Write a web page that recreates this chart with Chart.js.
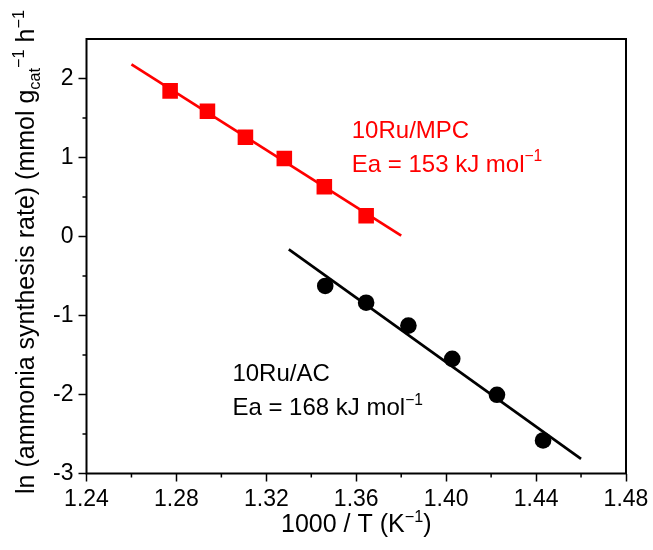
<!DOCTYPE html>
<html>
<head>
<meta charset="utf-8">
<script src="https://cdn.jsdelivr.net/npm/chart.js@4"></script>
<style>
html, body { margin: 0; padding: 0; background: #fff; }
</style>
</head>
<body>
<canvas id="myChart" width="653" height="550"></canvas>
<script>
// values
const mpcX = [1.2772, 1.2938, 1.3107, 1.3280, 1.3458, 1.3644]
const mpcY = [1.843, 1.586, 1.257, 0.988, 0.629, 0.262]
const mpcFitX = [1.260, 1.380]
const mpcFitY = [2.180, 0.010]

const acX = [1.3462, 1.3644, 1.3832, 1.4027, 1.4226, 1.4431]
const acY = [-0.626, -0.838, -1.128, -1.549, -2.004, -2.582]
const acFitX = [1.330, 1.460]
const acFitY = [-0.162, -2.814]

const xTicks = [1.24, 1.28, 1.32, 1.36, 1.40, 1.44, 1.48]
const xMinor = [1.26, 1.30, 1.34, 1.38, 1.42, 1.46]
const yTicks = [-3, -2, -1, 0, 1, 2]
const yMinor = [-2.5, -1.5, -0.5, 0.5, 1.5]

const RED = '#ff0000'
const FONT = '"Liberation Sans", Arial, sans-serif'

function toPoints(xs, ys) {
    return xs.map((x, i) => ({ x: x, y: ys[i] }))
}

// text with super/subscripts, drawn piece by piece
function drawRich(ctx, segs, x, y, size, color, align) {
    let total = 0
    segs.forEach(s => {
        ctx.font = ((s.sup || s.sub) ? size * 0.65 : size) + 'px ' + FONT
        total += ctx.measureText(s.t).width
    })
    let cx = align == 'center' ? x - total / 2 : x
    ctx.fillStyle = color
    ctx.textBaseline = 'alphabetic'
    ctx.textAlign = 'left'
    segs.forEach(s => {
        ctx.font = ((s.sup || s.sub) ? size * 0.65 : size) + 'px ' + FONT
        let dy = 0
        if (s.sup) dy = -size * 0.42
        if (s.sub) dy = size * 0.22
        ctx.fillText(s.t, cx, y + dy)
        cx += ctx.measureText(s.t).width
    })
}

const notes = [
    { x: 1.358, y: 1.358, color: RED, segs: [{ t: '10Ru/MPC' }] },
    { x: 1.358, y: 0.932, color: RED, segs: [{ t: 'Ea = 153 kJ mol' }, { t: '\u22121', sup: true }] },
    { x: 1.3049, y: -1.722, color: '#000', segs: [{ t: '10Ru/AC' }] },
    { x: 1.3049, y: -2.152, color: '#000', segs: [{ t: 'Ea = 168 kJ mol' }, { t: '\u22121', sup: true }] }
]

const decorPlugin = {
    id: 'decor',
    afterDraw(chart) {
        const ctx = chart.ctx
        const a = chart.chartArea
        const xs = chart.scales.x
        const ys = chart.scales.y
        ctx.save()
        // frame
        ctx.strokeStyle = '#000'
        ctx.lineWidth = 2
        ctx.strokeRect(a.left, a.top, a.right - a.left, a.bottom - a.top)
        // minor ticks
        ctx.lineWidth = 1.5
        ctx.beginPath()
        xMinor.forEach(v => {
            let px = xs.getPixelForValue(v)
            ctx.moveTo(px, a.bottom)
            ctx.lineTo(px, a.bottom + 4)
        })
        yMinor.forEach(v => {
            let py = ys.getPixelForValue(v)
            ctx.moveTo(a.left, py)
            ctx.lineTo(a.left - 4, py)
        })
        ctx.stroke()
        // annotations
        const noteSize = 24
        notes.forEach(n => {
            drawRich(ctx, n.segs, xs.getPixelForValue(n.x), ys.getPixelForValue(n.y) + noteSize * 0.36, noteSize, n.color, 'left')
        })
        // axis titles
        const titleSize = 25
        drawRich(ctx, [{ t: '1000 / T (K' }, { t: '\u22121', sup: true }, { t: ')' }],
            (a.left + a.right) / 2, 532, titleSize, '#000', 'center')
        ctx.translate(25, 252)
        ctx.rotate(-Math.PI / 2)
        drawRich(ctx, [
            { t: 'ln (ammonia synthesis rate) (mmol g' },
            { t: 'cat', sub: true },
            { t: '\u22121', sup: true },
            { t: ' h' },
            { t: '\u22121', sup: true }
        ], 0, titleSize * 0.36, titleSize, '#000', 'center')
        ctx.restore()
    }
}

function init() {
    const chartConfig = {
        type: 'scatter',
        data: {
            datasets: [
                {
                    label: '10Ru/MPC',
                    data: toPoints(mpcX, mpcY),
                    pointStyle: 'rect',
                    pointRadius: 11,
                    backgroundColor: RED,
                    borderColor: RED,
                    borderWidth: 0
                },
                {
                    label: '10Ru/AC',
                    data: toPoints(acX, acY),
                    pointStyle: 'circle',
                    pointRadius: 8.3,
                    backgroundColor: '#000',
                    borderColor: '#000',
                    borderWidth: 0
                },
                {
                    label: 'MPC fit',
                    data: toPoints(mpcFitX, mpcFitY),
                    showLine: true,
                    pointRadius: 0,
                    borderColor: RED,
                    borderWidth: 2.7
                },
                {
                    label: 'AC fit',
                    data: toPoints(acFitX, acFitY),
                    showLine: true,
                    pointRadius: 0,
                    borderColor: '#000',
                    borderWidth: 2.7
                }
            ]
        },
        options: {
            responsive: false,
            animation: false,
            layout: {
                padding: { top: 39, right: 27, left: 0, bottom: 0 }
            },
            plugins: {
                legend: { display: false },
                tooltip: { enabled: false }
            },
            scales: {
                x: {
                    type: 'linear',
                    min: 1.24,
                    max: 1.48,
                    afterBuildTicks: s => { s.ticks = xTicks.map(v => ({ value: v })) },
                    afterFit: s => { s.height = 76.5 },
                    border: { display: false },
                    grid: {
                        drawOnChartArea: false,
                        drawTicks: true,
                        tickLength: 8,
                        tickColor: '#000',
                        tickWidth: 1.5
                    },
                    ticks: {
                        color: '#000',
                        padding: 4,
                        maxRotation: 0,
                        font: { family: FONT, size: 23 },
                        callback: v => v.toFixed(2)
                    }
                },
                y: {
                    type: 'linear',
                    min: -3,
                    max: 2.5,
                    afterBuildTicks: s => { s.ticks = yTicks.map(v => ({ value: v })) },
                    afterFit: s => { s.width = 86.5 },
                    border: { display: false },
                    grid: {
                        drawOnChartArea: false,
                        drawTicks: true,
                        tickLength: 8,
                        tickColor: '#000',
                        tickWidth: 1.5
                    },
                    ticks: {
                        color: '#000',
                        padding: 5,
                        font: { family: FONT, size: 23 },
                        callback: v => String(v)
                    }
                }
            }
        },
        plugins: [decorPlugin]
    }
    const canvas = document.getElementById('myChart').getContext('2d')
    new Chart(canvas, chartConfig)
}
init()
</script>
</body>
</html>
